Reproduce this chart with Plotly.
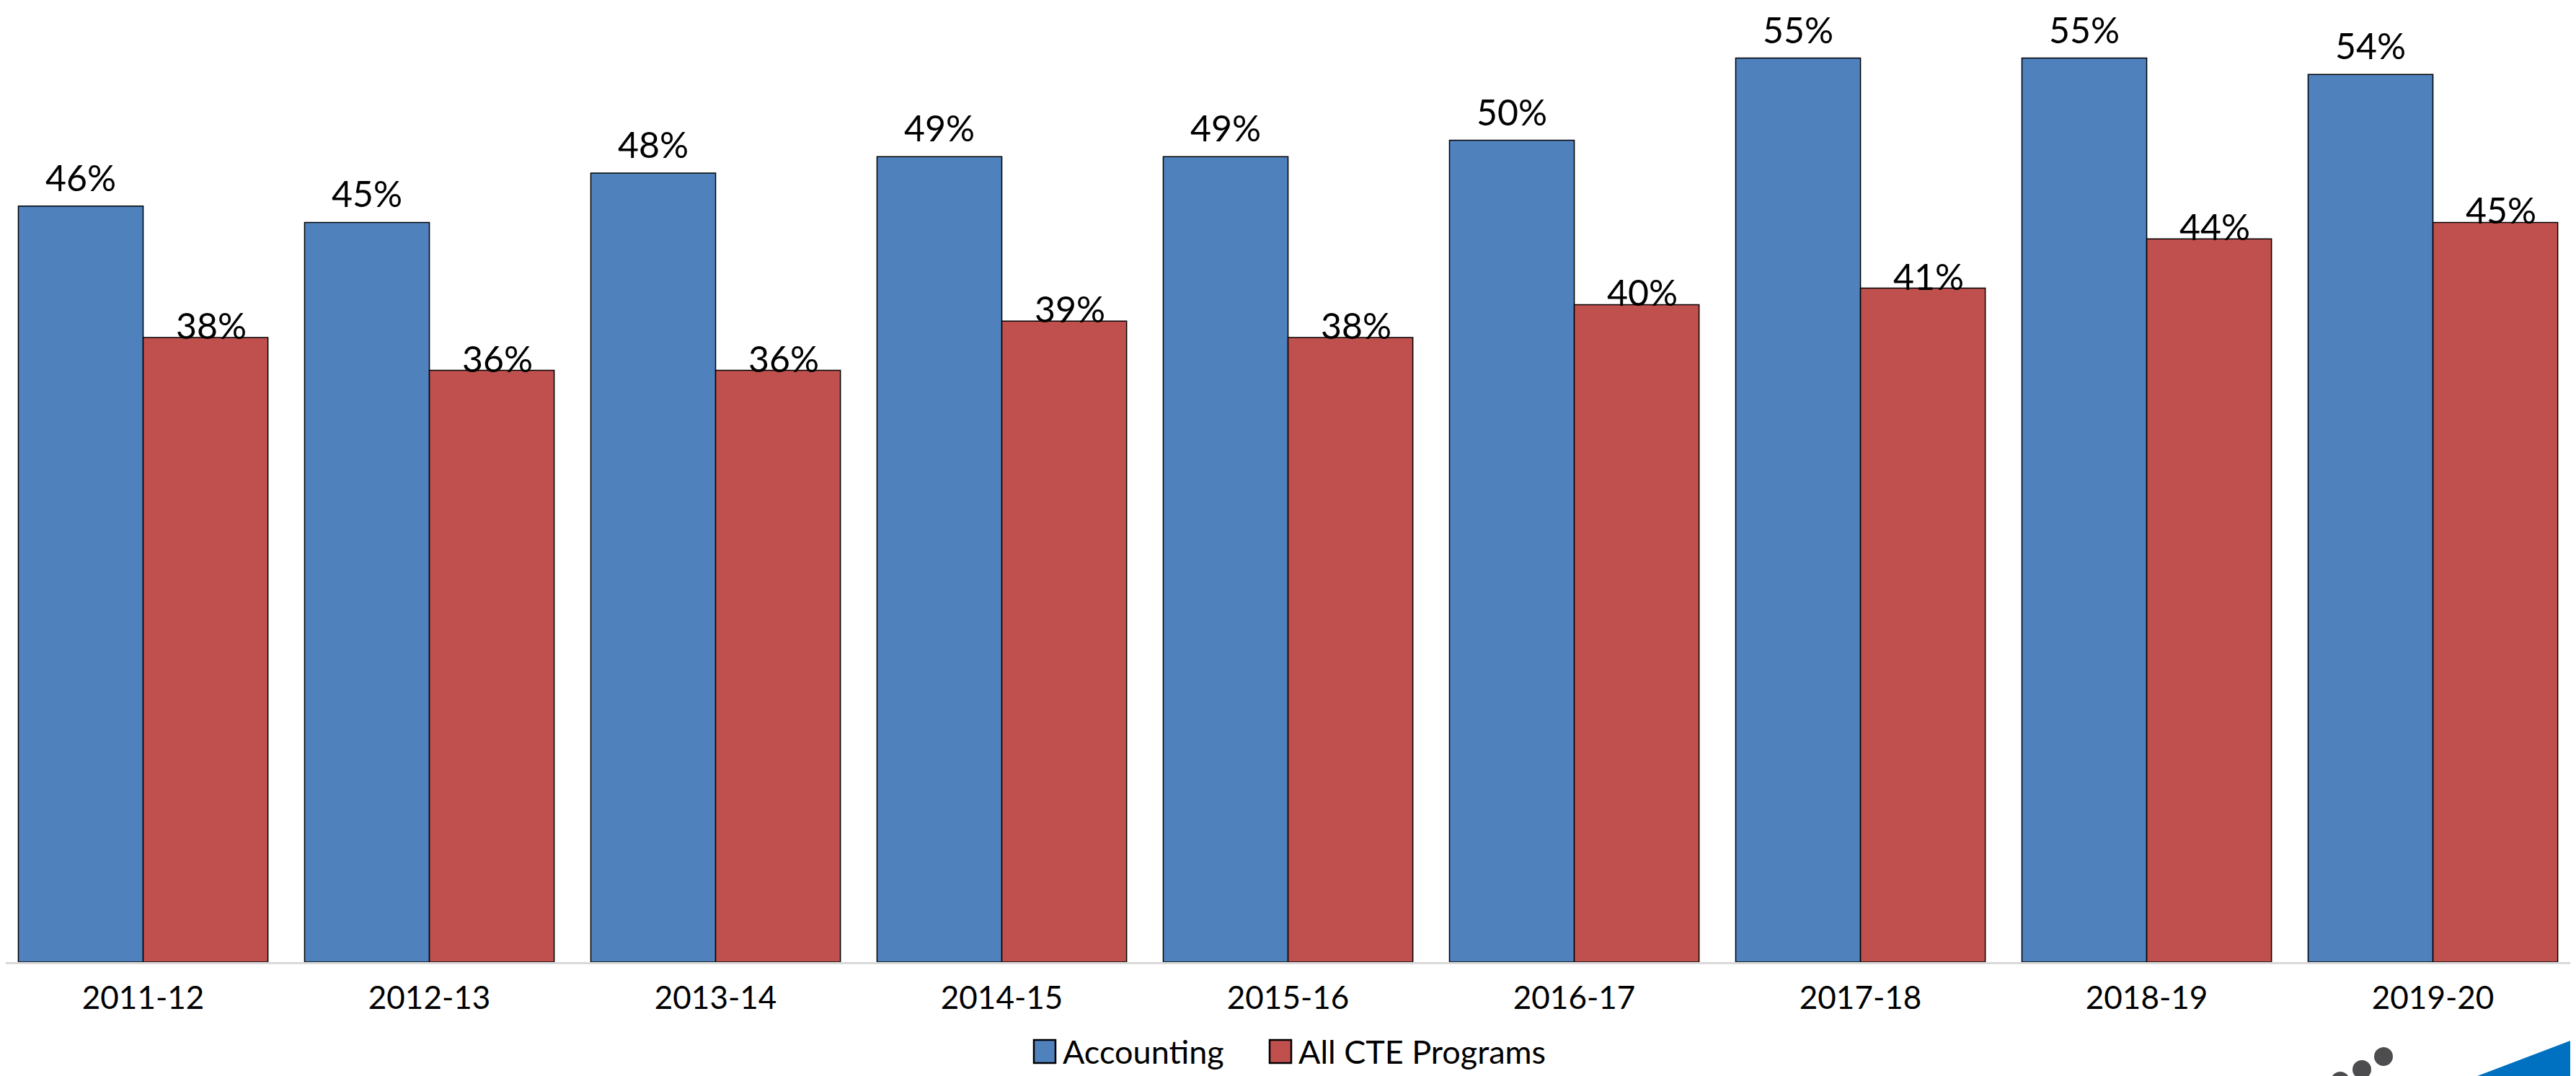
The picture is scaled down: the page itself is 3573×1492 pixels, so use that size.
import numpy as np
import plotly.graph_objects as go

# ---- data ----
years = ["2011-12", "2012-13", "2013-14", "2014-15", "2015-16",
         "2016-17", "2017-18", "2018-19", "2019-20"]
accounting = [46, 45, 48, 49, 49, 50, 55, 55, 54]
all_cte = [38, 36, 36, 39, 38, 40, 41, 44, 45]
series_names = ["Accounting", "All CTE Programs"]

BLUE = "#4F81BD"
RED = "#C0504D"
FONT = "Lato, Century Gothic, Open Sans, sans-serif"
W, H = 3573, 1492
BOTTOM = 166
BW = 0.436

idx = np.arange(len(years))
x_acc = idx - BW / 2
x_cte = idx + BW / 2

fig = go.Figure()
fig.add_trace(go.Bar(x=x_acc, y=accounting, width=BW, name=series_names[0],
                     marker=dict(color=BLUE, line=dict(color="black", width=1.5))))
fig.add_trace(go.Bar(x=x_cte, y=all_cte, width=BW, name=series_names[1],
                     marker=dict(color=RED, line=dict(color="black", width=1.5))))

annotations = []
for xv, v in zip(x_acc, accounting):
    annotations.append(dict(x=xv, y=v, text=f"{v}%", showarrow=False,
                            xref="x", yref="y", yanchor="middle", yshift=40,
                            font=dict(family=FONT, size=50, color="black")))
for xv, v in zip(x_cte, all_cte):
    annotations.append(dict(x=xv, y=v, text=f"{v}%", showarrow=False,
                            xref="x", yref="y", yanchor="middle", yshift=17, xshift=8,
                            font=dict(family=FONT, size=50, color="black")))

plot_h = H - BOTTOM

def py(p):
    return (plot_h - p) / plot_h

def px(p):
    return p / W

shapes = []
# custom legend (large square swatches like the original)
leg_y = 1450
leg_items = [(series_names[0], BLUE, 1426), (series_names[1], RED, 1753)]
for nm, col, x0 in leg_items:
    shapes.append(dict(type="rect", xref="paper", yref="paper",
                       x0=px(x0), x1=px(x0 + 30), y0=py(leg_y + 16), y1=py(leg_y - 16),
                       fillcolor=col, line=dict(color="black", width=2.5)))
    annotations.append(dict(x=px(x0 + 38), y=py(leg_y), xref="paper", yref="paper",
                            text=nm, showarrow=False, xanchor="left", yanchor="middle",
                            font=dict(family=FONT, size=45, color="black")))

# decorative corner logo fragments
shapes.append(dict(type="path", xref="paper", yref="paper",
                   path=f"M {px(3407)} {py(1492)} L {px(3565)} {py(1432)} L {px(3573)} {py(1432)} L {px(3573)} {py(1492)} Z",
                   fillcolor="#0070C0", line=dict(width=0), layer="above"))
for cx, cy, r in [(3298, 1457, 13), (3268, 1475, 13), (3238, 1491, 13)]:
    shapes.append(dict(type="circle", xref="paper", yref="paper",
                       x0=px(cx - r), x1=px(cx + r), y0=py(cy + r), y1=py(cy - r),
                       fillcolor="#4D4D50", line=dict(width=0)))

fig.update_layout(
    width=W, height=H,
    margin=dict(l=0, r=0, t=0, b=BOTTOM),
    paper_bgcolor="white", plot_bgcolor="white",
    barmode="overlay",
    showlegend=False,
    annotations=annotations,
    shapes=shapes,
    font=dict(family=FONT, color="black"),
)
fig.update_xaxes(range=[-0.48, len(years) - 0.48], tickmode="array",
                 tickvals=idx, ticktext=years, showgrid=False, zeroline=False,
                 showline=True, linecolor="#D9D9D9", linewidth=3, ticks="",
                 ticklabelstandoff=9,
                 tickfont=dict(family=FONT, size=44, color="black"))
fig.update_yaxes(range=[0, plot_h / 22.79], showgrid=False, zeroline=False,
                 showticklabels=False, showline=False, ticks="")

fig.write_html("out.html")
